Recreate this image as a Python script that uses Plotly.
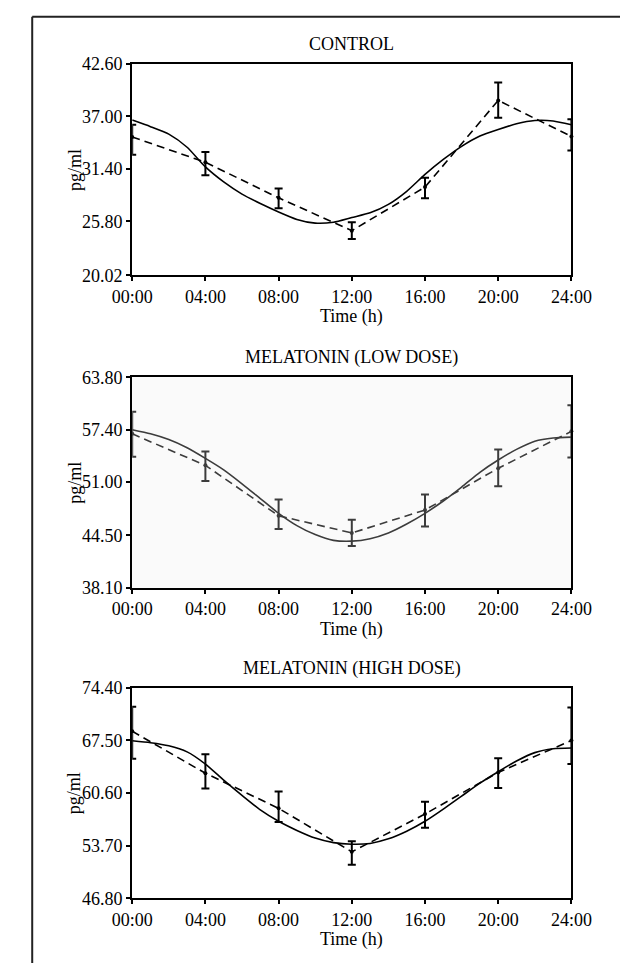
"""Circadian profiles: control vs melatonin (low and high dose).

Three stacked panels, each showing the measured mean +/- error (dashed,
joined points) and a fitted rhythm (solid curve) over a 24 h cycle.
"""

import plotly.graph_objects as go

# Sampling times (h) and their labels.
hours = [0, 4, 8, 12, 16, 20, 24]
tick_labels = ["00:00", "04:00", "08:00", "12:00", "16:00", "20:00", "24:00"]

# Hourly grid for the fitted curves.
fit_hours = list(range(25))

# CONTROL
control_mean = [34.8, 32.1, 28.3, 24.8, 29.45, 38.7, 34.85]
control_err_up = [1.3, 1.1, 1.0, 0.9, 1.0, 1.9, 1.85]
control_err_down = [1.9, 1.4, 1.1, 0.9, 1.2, 1.85, 1.5]
control_fit = [36.6, 35.9, 35.1, 33.7, 31.6, 30.0, 28.7, 27.7, 26.8, 26.0,
               25.6, 25.7, 26.2, 26.7, 27.6, 29.0, 30.8, 32.4, 33.8, 34.9,
               35.6, 36.2, 36.55, 36.5, 36.1]

# MELATONIN (LOW DOSE)
low_mean = [56.9, 53.05, 46.9, 44.8, 47.6, 52.7, 57.2]
low_err_up = [2.7, 1.7, 2.0, 1.6, 1.9, 2.3, 3.2]
low_err_down = [2.8, 1.9, 1.6, 1.6, 2.0, 2.2, 3.2]
low_fit = [57.4, 56.9, 56.2, 55.2, 53.9, 52.5, 50.8, 49.0, 47.2, 45.7,
           44.6, 43.9, 43.8, 44.1, 44.8, 45.9, 47.2, 48.7, 50.4, 52.2,
           53.7, 55.0, 56.0, 56.4, 56.5]

# MELATONIN (HIGH DOSE)
high_mean = [68.7, 63.2, 58.6, 52.9, 57.85, 63.3, 67.5]
high_err_up = [3.2, 2.5, 2.2, 1.4, 1.6, 1.85, 4.3]
high_err_down = [3.6, 2.0, 1.8, 1.7, 1.8, 2.05, 3.1]
high_fit = [67.45, 67.2, 66.8, 66.0, 64.4, 62.3, 60.3, 58.4, 56.9, 55.7,
            54.7, 54.1, 53.9, 54.0, 54.6, 55.6, 56.9, 58.5, 60.2, 61.9,
            63.4, 64.8, 65.9, 66.4, 66.5]

panel_titles = ["CONTROL", "MELATONIN (LOW DOSE)", "MELATONIN (HIGH DOSE)"]
y_ticks = [
    [20.02, 25.80, 31.40, 37.00, 42.60],
    [38.10, 44.50, 51.00, 57.40, 63.80],
    [46.80, 53.70, 60.60, 67.50, 74.40],
]

panels = [
    (control_mean, control_err_up, control_err_down, control_fit),
    (low_mean, low_err_up, low_err_down, low_fit),
    (high_mean, high_err_up, high_err_down, high_fit),
]

W, H = 641, 973
FONT = "Liberation Serif"
FS = 18

# Pixel layout of the plot areas (left, right, top, bottom).
x_px = (119, 589)
y_px = [(55, 271), (375, 590), (692, 907)]
line_colors = ["black", "#3c3c3c", "black"]
bg_colors = ["white", "#fafafa", "white"]

fig = go.Figure()

for i, (mean, eu, ed, fit) in enumerate(panels):
    n = "" if i == 0 else str(i + 1)
    col = line_colors[i]

    # Fitted rhythm (solid).
    fig.add_trace(go.Scatter(
        x=fit_hours, y=fit, mode="lines",
        line=dict(color=col, width=1.6, shape="spline", smoothing=0.6),
        xaxis="x" + n, yaxis="y" + n, showlegend=False, hoverinfo="skip",
    ))

    # Measured means with error bars (dashed).
    fig.add_trace(go.Scatter(
        x=hours, y=mean, mode="lines+markers",
        line=dict(color=col, width=1.6, dash="8px,5px"),
        marker=dict(color=col, size=4),
        error_y=dict(type="data", symmetric=False, array=eu, arrayminus=ed,
                     color=col, thickness=2, width=4),
        cliponaxis=False,
        xaxis="x" + n, yaxis="y" + n, showlegend=False,
    ))

    top, bottom = y_px[i]
    dom_y = [1 - bottom / H, 1 - top / H]
    axis_common = dict(
        showline=True, linecolor="black", linewidth=2, mirror=True,
        ticks="outside", ticklen=4, tickwidth=2, tickcolor="black",
        showgrid=False, zeroline=False,
        tickfont=dict(family=FONT, size=FS, color="black"),
    )
    fig.update_layout({
        "xaxis" + n: dict(
            domain=[x_px[0] / W, x_px[1] / W], range=[0, 24],
            tickvals=hours, ticktext=tick_labels,
            anchor="y" + n, **axis_common,
        ),
        "yaxis" + n: dict(
            domain=dom_y, range=[y_ticks[i][0], y_ticks[i][-1]],
            tickvals=y_ticks[i], ticktext=[f"{v:.2f}" for v in y_ticks[i]],
            anchor="x" + n, **axis_common,
        ),
    })

    # Plot-area background (panel 2 is slightly grey in the scan).
    fig.add_shape(type="rect", xref="paper", yref="paper",
                  x0=x_px[0] / W, x1=x_px[1] / W, y0=dom_y[0], y1=dom_y[1],
                  fillcolor=bg_colors[i], line_width=0, layer="below")

    mid_x = (x_px[0] + x_px[1]) / 2 / W
    # Panel title, x title and y title.
    fig.add_annotation(text=panel_titles[i], xref="paper", yref="paper",
                       x=mid_x, y=1 - (top - 20) / H, showarrow=False,
                       xanchor="center", yanchor="middle",
                       font=dict(family=FONT, size=FS, color="black"))
    fig.add_annotation(text="Time (h)", xref="paper", yref="paper",
                       x=mid_x, y=1 - (bottom + 42) / H, showarrow=False,
                       xanchor="center", yanchor="middle",
                       font=dict(family=FONT, size=FS, color="black"))
    fig.add_annotation(text="pg/ml", xref="paper", yref="paper",
                       x=57 / W, y=1 - (top + bottom) / 2 / H, showarrow=False,
                       textangle=-90, xanchor="center", yanchor="middle",
                       font=dict(family=FONT, size=FS, color="black"))

# Frame of the scanned figure: top and left edges only.
fig.add_shape(type="line", xref="paper", yref="paper",
              x0=12 / W, x1=1, y0=1 - 7 / H, y1=1 - 7 / H,
              line=dict(color="#222", width=2))
fig.add_shape(type="line", xref="paper", yref="paper",
              x0=12 / W, x1=12 / W, y0=0, y1=1 - 7 / H,
              line=dict(color="#222", width=2))

fig.update_layout(
    width=W, height=H,
    margin=dict(l=0, r=0, t=0, b=0),
    paper_bgcolor="white", plot_bgcolor="rgba(0,0,0,0)",
    font=dict(family=FONT, size=FS, color="black"),
    showlegend=False,
)

fig.write_html(
    "out.html",
    config={"displayModeBar": False, "responsive": False},
    post_script=(
        "document.documentElement.style.margin='0';"
        "document.body.style.margin='0';"
        "document.body.style.overflow='hidden';"
    ),
)
